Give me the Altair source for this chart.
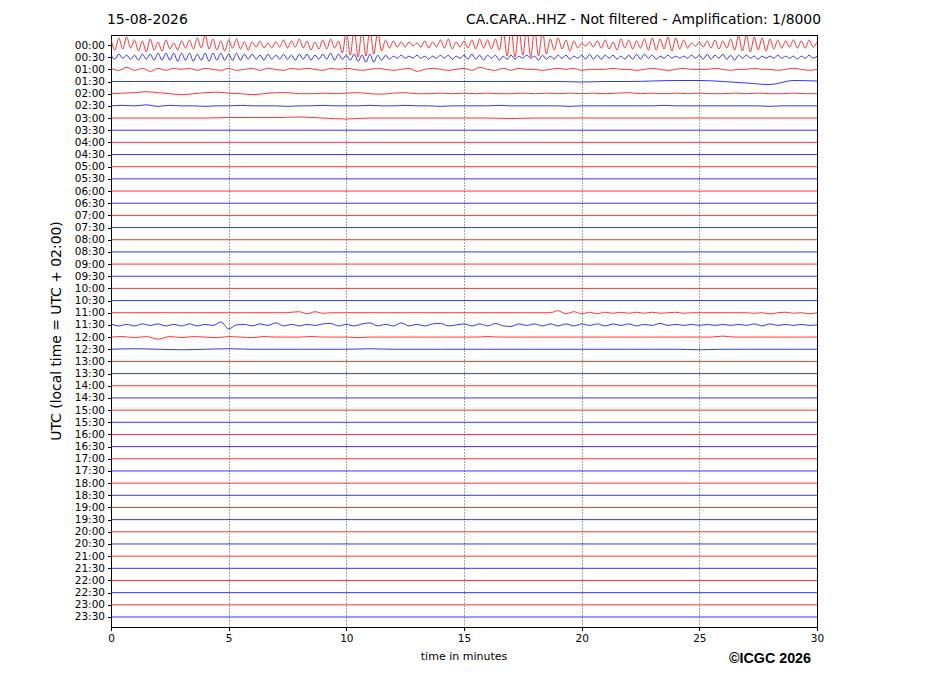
import altair as alt
import pandas as pd

DATE = "15-08-2026"
TITLE = "CA.CARA..HHZ - Not filtered - Amplification: 1/8000"
YTITLE = "UTC (local time = UTC + 02:00)"
XTITLE = "time in minutes"
CREDIT = "\u00a9ICGC 2026"

ROW_LABELS = [f"{h:02d}:{m}" for h in range(24) for m in ("00", "30")]
X_TICKS = [0, 5, 10, 15, 20, 25, 30]
COLORS = ["#ff0000", "#0000ff"]

# amplitude (counts, arbitrary units) of each 30-minute trace, equally spaced over 0..30 min
TR00 = [6,-5,7,-4,8,-3, 5,-6,4,-7,6,-5, 3,-6,5,-4,2,-5, 4,-3,5,-4,7,-3,
        10,-4,6,-5,4,-6, 5,-3,6,-4,3,-5, 3,-2,4,-3,2,-3, 3,-2,5,-3,4,-2,
        6,-3,4,-5,3,-4, 5,-4,6,-3,4,-8, 14,-10,16,-12,15,-11, 16,-9,13,-6,5,-3,
        4,-2,3,-2,3,-1, 2,-2,4,-3,3,-2, 5,-3,6,-4,3,-2, 4,-3,5,-4,6,-3,
        5,-4,6,-5,14,-11, 16,-12,15,-10,17,-12, 16,-11,14,-9,6,-5, 7,-4,5,-6,4,-3,
        2,-1,3,-2,4,-3, 5,-4,3,-5,6,-3, 5,-4,4,-3,6,-5, 7,-5,6,-4,8,-6,
        7,-4,5,-3,2,-1, 3,-2,4,-3,5,-4, 4,-3,6,-5,9,-6, 10,-7,8,-5,7,-6,
        6,-4,5,-3,4,-2, 5,-3,4,-3,5,-2, 3]
TR01 = [2,-2,3,-1,2,-2, 2,-3,3,-2,3,-3, 4,-3,4,-3,4,-4, 4,-3,4,-4,3,-3,
        4,-4,4,-3,4,-3, 3,-3,4,-3,3,-2, 3,-2,2,-3,3,-2, 2,-2,3,-2,2,-3,
        3,-2,3,-3,2,-2, 3,-2,4,-3,3,-2, 2,-3,3,-4,2,-5, 3,-5,2,-3,2,-2,
        1,-1,2,-1,1,-1, 2,-1,1,-2,1,-1, 2,-1,2,-2,1,-1, 2,-2,3,-2,2,-3,
        2,-1,2,-3,1,-2, 2,-2,1,-1,2,-1, 1,-3,2,-2,1,-2, 2,-1,2,-2,1,-1,
        2,-2,3,-2,2,-2, 2,-1,2,-2,1,-2, 2,-2,3,-2,3,-1, 2,-2,1,-1,2,-1,
        1,-1,1,-1,2,-1, 2,-2,3,-2,2,-1, 3,-2,2,-3,2,-1, 2,-1,1,-2,1,-1,
        1,-1,2,-1,1,-1, 1,-2,1,-1,2,-1, 1]
TR02 = [1,-1,2, -1,1,-2, 1,-1,1, 0,1,-1, 1,0,-1, 1,-1,0, 1,-1,1, 0,-1,1,
        0,1,0, -1,1,0, 1,0,-1, 0,1,0, -1,0,1, -2,0,1, 0,-1,0, 1,-1,2,
        0,-1,1, -1,1,0, 0,-1,0, 1,0,1, -1,0,0, 0,1,0, 0,-1,0, 1,0,-1,
        0,1,0, 0,0,1, 0,-1,0, 0,1,0, 0,-1,0, 1,0,-1, 0]
TR03 = [0,0,0,0,0,0,0,0,0,0, 0,0,0,0,0,0,0,0,0,0, -0.5,0,0,0.5,1,1,0,-1.5,-3,1,0.5]
TR04 = [0,0.5,1,2,1,0,-1,0,1,1.5,0.5,0,-1,0,1,1,0,0,0.5,0,0.5,1,0,-0.5,0.5,1,0,0,0.5,0,
        0.5,0,0.5,0,0,0.5,0,0.5,0,0.5,0,0.5,0,0.5,1,0,0.5,0,0.5,0,0.5,0,0,0.5,0,0.5,0,0,0.5,0,0]
TR05 = [0,0.5,0,1,-0.5,0.5,0,0,-0.5,0,0,0.5,0,0,0,-0.5,0,0,0.5,0,0,0,0.5,0,0,0.5,0,0,-0.5,0,
        0,0,0,0.5,0,0,0,0,0,-0.5,0,0,0,0,0,0,0,0.5,0,0,0,0,0,0,0,0,-0.5,0,0,0,0]
TR06 = [0,0,0,0,0,0.5,0.5,0.5,1,0,-1,0,0,0,0,0,0,-0.5,0,0,0,0,0,0,0,0,0,0,0,0,0]
TR22 = [0,0,0, 0,0,0, 0,0,0, 0,0,0, 0,0,0, 0,0,0, 0,0,0, 0,0,0.5,
        1,-1,1, -0.5,0,0, 0,0,0, 0,0,0, 0,0,0, 0,0,0, 0,0,0, 0,0,0,
        0,0,0, 0,0,0, 0,0,0, 2,-1,1, -1,0.5,-1, 0.5,-0.5,0.5, -0.5,0.5,-0.5, 0.5,-0.5,0,
        0.5,-0.5,0, 0,0,0, 0,0,0, 0,-0.5,0, -1,0,0.5, -0.5,0,-1, 0]
TR23 = [1,-1,0.5, -1,1,-0.5, 1,-1,0.5, -1,1,-1, 0.5,-0.5,3, -4,0,0.5, -1,1,-0.5, 2,-1,0.5,
        -1,0.5,-0.5, 1,1.5,-1, 0.5,-1,1, 2,-1,0.5, -1,2,-1, 0.5,-1,1, 1.5,-1,0, 1,-1,1,
        -1,1.5,-1, -1.5,1,-0.5, 1,-1,1, -1,1,-1, 1,-0.5,1, -1,1,-0.5, 1,-1,0.5, -0.5,1.5,-0.5,
        0.5,-0.5,0.5, -0.5,0.5,-0.5, 0.5,-0.5,0.5, -0.5,1,-1, 1,-0.5,0.5, -0.5,0.5,-0.5, 0]
TR24 = [0,0.5,-0.5,0.5,-2,0.5,-0.5,0.5,0,-0.5,0.5,0,-0.5,0.5,0,0,0,0.5,0,0,0,-0.5,0,0,0,0,0,0,0,0,
        0,0,0.5,0,0,0,0,0,0,0,0,0,0,0,0,0,0,0,0,0,0,0,1,0,0,0,0,0,0,0,0]
TR25 = [0,0.5,0,-0.5,0,0.5,0,0,0,0,0,0.5,0,0,0,0,0,0,0,0,0,0,0,0,0,-0.5,0,0,0,0,0]

TRACES = {0: TR00, 1: TR01, 2: TR02, 3: TR03, 4: TR04, 5: TR05, 6: TR06,
          22: TR22, 23: TR23, 24: TR24, 25: TR25}
GAIN = 1 / 12.17  # trace spacing per count

rows = []
for k in range(len(ROW_LABELS)):
    vals = TRACES.get(k, [0, 0])
    n = len(vals)
    for j, v in enumerate(vals):
        rows.append({"trace": k, "minute": 30.0 * j / (n - 1),
                     "y": k - v * GAIN, "col": "r" if k % 2 == 0 else "b"})
df = pd.DataFrame(rows)

label_expr = "[" + ",".join(f"'{s}'" for s in ROW_LABELS) + "][datum.value]"

lines = alt.Chart(df).mark_line(clip=True, strokeWidth=0.8, interpolate="monotone").encode(
    x=alt.X("minute:Q", scale=alt.Scale(domain=[0, 30], nice=False, zero=False),
            axis=alt.Axis(values=X_TICKS, title=None, grid=True, gridColor="black",
                          gridDash=[1, 2], gridWidth=0.7, gridOpacity=1, tickSize=3.5,
                          labelFontSize=10.5, labelPadding=3, format="d", labelFlush=False,
                          domainColor="black", tickColor="black", labelColor="black")),
    y=alt.Y("y:Q", scale=alt.Scale(domain=[-0.822, 47.822], reverse=True, nice=False, zero=False),
            axis=alt.Axis(values=list(range(48)), labelExpr=label_expr, title=None, grid=False,
                          tickSize=3.5, labelFontSize=10.5, labelPadding=3,
                          domainColor="black", tickColor="black", labelColor="black")),
    color=alt.Color("col:N", scale=alt.Scale(domain=["r", "b"], range=COLORS), legend=None),
    detail="trace:N",
)

def txt(s, x, y, size, align="left", weight="normal", font="DejaVu Sans", angle=0):
    return alt.Chart(pd.DataFrame({"t": [s]})).mark_text(
        align=align, baseline="middle", fontSize=size, fontWeight=weight, font=font,
        angle=angle, color="black").encode(text="t:N", x=alt.value(x), y=alt.value(y))

chart = alt.layer(
    lines,
    txt(DATE, -4, -15, 13.9),
    txt(TITLE, 710, -15, 13.9, align="right"),
    txt(YTITLE, -54, 296, 13.9, align="center", angle=270),
    txt(XTITLE, 353, 622, 11, align="center"),
    txt(CREDIT, 700, 624, 14.3, align="right", weight="bold", font="Liberation Sans"),
).properties(
    width=706, height=592,
    autosize=alt.AutoSizeParams(type="none"),
    padding={"left": 103, "top": 27, "right": 100, "bottom": 60},
).configure_view(stroke="black", strokeWidth=1).configure_axis(
    labelFont="DejaVu Sans")

chart.save("out.html", embed_options={"renderer": "svg", "actions": False})
